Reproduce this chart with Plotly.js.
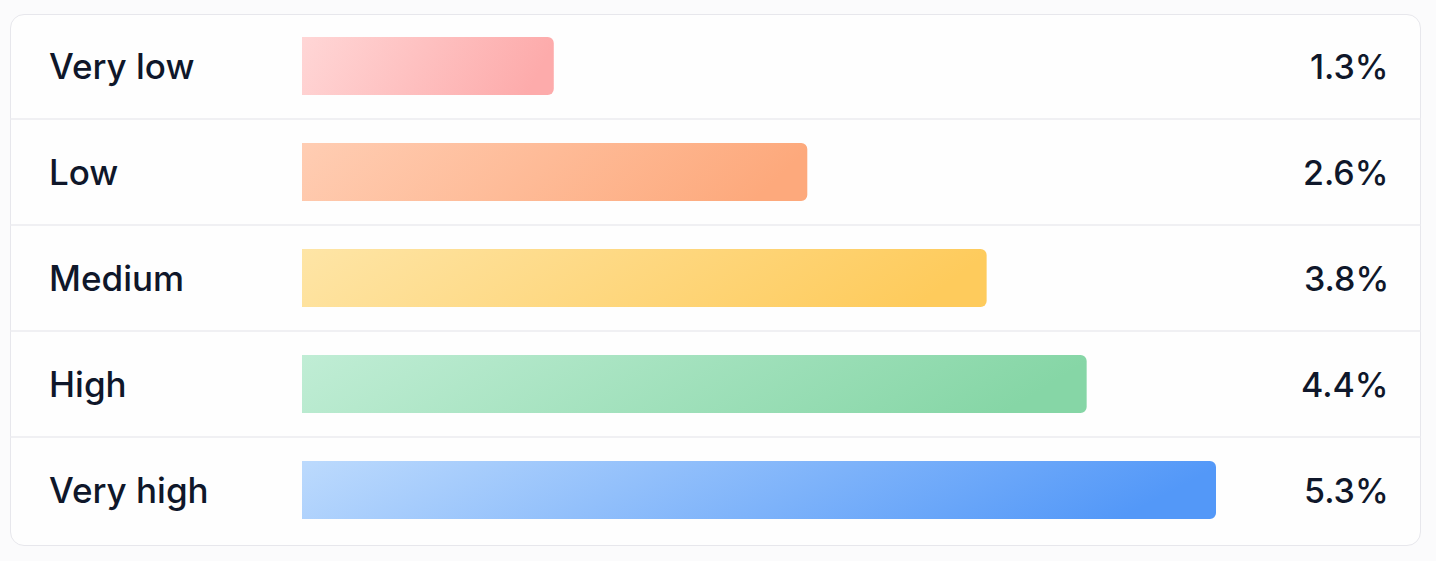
<!DOCTYPE html>
<html>
<head>
<meta charset="utf-8">
<script src="https://cdn.plot.ly/plotly-3.0.1.min.js"></script>
<style>
  html, body { margin: 0; padding: 0; background: #fbfbfc; }
  #card {
    position: absolute;
    left: 10px; top: 14px;
    width: 1409px; height: 530px;
    background: #fefefe;
    border: 1.5px solid #e7e7ec;
    border-radius: 14px;
  }
  #chart { position: absolute; left: 0; top: 0; width: 1436px; height: 561px; }
</style>
</head>
<body>
<div id="card"></div>
<div id="chart"></div>
<script>
// Risk bands, top to bottom
var bands = ['Very low', 'Low', 'Medium', 'High', 'Very high'];
// Printed share for each band (%)
var shares = [1.3, 2.6, 3.8, 4.4, 5.3];
// Bar lengths as drawn in the picture (same % scale, the bars are not exactly proportional to the printed shares)
var barLength = [1.46, 2.93, 3.97, 4.55, 5.3];
// Light / dark end of each bar gradient
var colorLight = ['#ffd6d6', '#ffcdb3', '#fee5a6', '#c0edd5', '#bcdafd'];
var colorDark = ['#fdabab', '#fda97c', '#fecb5c', '#86d6a6', '#5398f8'];

const config = { staticPlot: true };

var textColor = '#0f172a';
var fontFamily = 'Inter, "Noto Sans", sans-serif';

function draw_risk_bands() {
  var chart_data = [
    {
      type: 'bar',
      orientation: 'h',
      y: bands,
      x: barLength,
      width: 0.547,
      marker: {
        color: colorDark,
        cornerradius: 6,
        line: { width: 0 },
      },
      hoverinfo: 'none',
    },
  ];

  // thin separators between the rows, spanning the card
  var shapes = bands.slice(1).map((b, i) => ({
    type: 'line',
    xref: 'paper',
    yref: 'y',
    x0: -0.3195,
    x1: 1.2243,
    y0: i + 0.5,
    y1: i + 0.5,
    line: { color: '#ebebef', width: 1.5 },
    layer: 'below',
  }));

  var annotations = [];
  bands.forEach((b, i) => {
    annotations.push({
      text: b,
      xref: 'paper',
      yref: 'y',
      x: -0.279,
      y: b,
      xanchor: 'left',
      yanchor: 'middle',
      showarrow: false,
      font: { family: fontFamily, size: 35, color: textColor, weight: 500 },
    });
    annotations.push({
      text: shares[i].toFixed(1) + '%',
      xref: 'paper',
      yref: 'y',
      x: 1.1915,
      y: b,
      xanchor: 'right',
      yanchor: 'middle',
      showarrow: false,
      font: { family: fontFamily, size: 34, color: textColor, weight: 500 },
    });
  });

  var chart_layout = {
    width: 1436,
    height: 561,
    margin: { l: 302, r: 220, t: 13, b: 18, pad: 0 },
    paper_bgcolor: 'rgba(0,0,0,0)',
    plot_bgcolor: 'rgba(0,0,0,0)',
    showlegend: false,
    xaxis: {
      range: [0, 5.3],
      visible: false,
      fixedrange: true,
    },
    yaxis: {
      type: 'category',
      range: [4.5, -0.5],
      visible: false,
      fixedrange: true,
    },
    shapes: shapes,
    annotations: annotations,
  };

  return Plotly.newPlot('chart', chart_data, chart_layout, config).then(add_gradients);
}

// Plotly bars are flat colour only, so swap each bar fill for a mostly left-to-right gradient
function add_gradients(gd) {
  var svg = gd.querySelector('.main-svg');
  var ns = 'http://www.w3.org/2000/svg';
  var defs = document.createElementNS(ns, 'defs');
  svg.insertBefore(defs, svg.firstChild);

  var paths = gd.querySelectorAll('.barlayer .point path');
  paths.forEach((path, i) => {
    var grad = document.createElementNS(ns, 'linearGradient');
    grad.setAttribute('id', 'bargrad' + i);
    grad.setAttribute('x1', '0');
    grad.setAttribute('y1', '0');
    grad.setAttribute('x2', '1');
    grad.setAttribute('y2', '0.12');
    [[0, colorLight[i]], [1, colorDark[i]]].forEach(([off, col]) => {
      var stop = document.createElementNS(ns, 'stop');
      stop.setAttribute('offset', off);
      stop.setAttribute('stop-color', col);
      grad.appendChild(stop);
    });
    defs.appendChild(grad);
    path.style.fill = 'url(#bargrad' + i + ')';
  });
}

draw_risk_bands();
</script>
</body>
</html>
